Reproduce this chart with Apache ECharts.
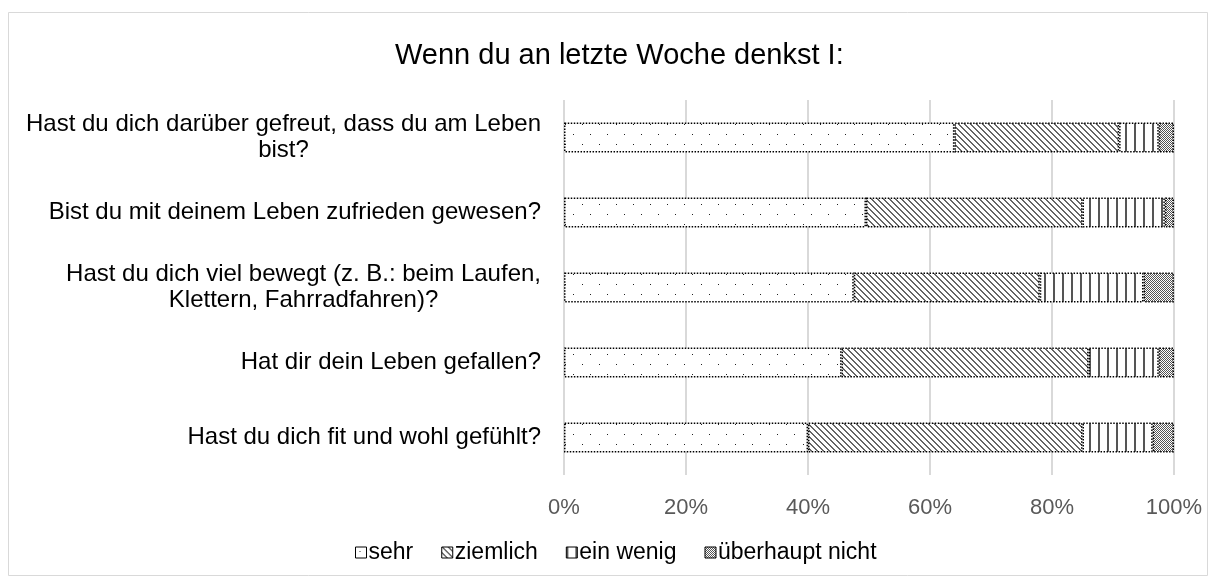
<!DOCTYPE html>
<html>
<head>
<meta charset="utf-8">
<script src="https://cdn.jsdelivr.net/npm/echarts@6/dist/echarts.min.js"></script>
<style>
  html, body { margin: 0; padding: 0; background: #fff; }
  #chart { width: 1216px; height: 583px; }
</style>
</head>
<body>
<div id="chart"></div>
<script>
// Kategorien (von oben nach unten)
const categories = [
  'Hast du dich darüber gefreut, dass du am Leben bist?',
  'Bist du mit deinem Leben zufrieden gewesen?',
  'Hast du dich viel bewegt (z. B.: beim Laufen, Klettern, Fahrradfahren)?',
  'Hat dir dein Leben gefallen?',
  'Hast du dich fit und wohl gefühlt?'
];
const seriesNames = ['sehr', 'ziemlich', 'ein wenig', 'überhaupt nicht'];
const sehr = [64, 49.5, 47.5, 45.5, 40];
const ziemlich = [27, 35.5, 30.5, 40.5, 45];
const einWenig = [6.5, 13.5, 17, 11.5, 11.5];
const ueberhauptNicht = [2.5, 1.5, 5, 2.5, 3.5];
const xTicks = [0, 20, 40, 60, 80, 100];

const FONT = 'Arial, "Liberation Sans", sans-serif';

// kleine Muster-Kacheln wie in Excel
function tile(w, h, draw) {
  const c = document.createElement('canvas');
  c.width = w; c.height = h;
  const ctx = c.getContext('2d');
  ctx.fillStyle = '#fff';
  ctx.fillRect(0, 0, w, h);
  draw(ctx);
  return { image: c, repeat: 'repeat' };
}
const patDots = tile(17, 20, function (ctx) {
  ctx.fillStyle = '#222';
  ctx.fillRect(4, 4, 1, 1);
  ctx.fillRect(12, 14, 1, 1);
});
const patDiag = tile(6, 6, function (ctx) {
  ctx.fillStyle = '#666';
  for (let i = 0; i < 6; i++) {
    ctx.fillRect(i, i, 1, 1);
    ctx.fillRect((i + 1) % 6, i, 1, 1);
  }
});
const patVert = tile(9, 4, function (ctx) {
  ctx.fillStyle = '#555';
  ctx.fillRect(0, 0, 2, 4);
});
const patCheck = tile(2, 2, function (ctx) {
  ctx.fillStyle = '#555';
  ctx.fillRect(0, 0, 1, 1);
  ctx.fillRect(1, 1, 1, 1);
});
const patterns = [patDots, patDiag, patVert, patCheck];
const values = [sehr, ziemlich, einWenig, ueberhauptNicht];

// Zeilenumbruch der Achsenbeschriftung
const measure = document.createElement('canvas').getContext('2d');
measure.font = '24px ' + FONT;
function wrap(text, maxW) {
  const words = text.split(' ');
  const lines = [];
  let cur = '';
  words.forEach(function (w) {
    const t = cur ? cur + ' ' + w : w;
    if (measure.measureText(t).width > maxW && cur) {
      lines.push(cur);
      cur = w;
    } else {
      cur = t;
    }
  });
  if (cur) lines.push(cur);
  return lines;
}

const myChart = echarts.init(document.getElementById('chart'));
myChart.setOption({
  backgroundColor: '#fff',
  animation: false,
  textStyle: { fontFamily: FONT },
  title: {
    text: 'Wenn du an letzte Woche denkst I:',
    left: 390,
    top: 36,
    textStyle: { fontSize: 29, fontWeight: 'normal', color: '#000', fontFamily: FONT }
  },
  graphic: [{
    type: 'rect',
    shape: { x: 8.5, y: 12.5, width: 1199, height: 563 },
    style: { fill: 'none', stroke: '#d9d9d9', lineWidth: 1 },
    silent: true
  }],
  legend: {
    data: seriesNames,
    top: 536,
    left: 350,
    icon: 'rect',
    itemWidth: 11,
    itemHeight: 11,
    itemGap: 28,
    itemStyle: { borderWidth: 1 },
    textStyle: { fontSize: 23, color: '#000', fontFamily: FONT, padding: [0, 0, 0, -3] }
  },
  grid: { left: 564, right: 42, top: 100, height: 375, containLabel: false },
  xAxis: {
    type: 'value',
    min: 0,
    max: 100,
    interval: 20,
    axisLine: { show: false },
    axisTick: { show: false },
    splitLine: { lineStyle: { color: '#d9d9d9', width: 2 } },
    axisLabel: {
      margin: 22,
      fontSize: 22,
      color: '#595959',
      fontFamily: FONT,
      formatter: function (v) { return v + '%'; }
    }
  },
  yAxis: {
    type: 'category',
    data: categories,
    inverse: true,
    axisLine: { show: false },
    axisTick: { show: false },
    axisLabel: {
      margin: 23,
      align: 'right',
      formatter: function (v) {
        return wrap(v, 525).map(function (l) { return '{c|' + l + '}'; }).join('\n');
      },
      rich: {
        c: { align: 'center', fontSize: 24, lineHeight: 26, color: '#000', fontFamily: FONT }
      }
    }
  },
  series: seriesNames.map(function (name, i) {
    return {
      name: name,
      type: 'bar',
      stack: 'total',
      barWidth: 30,
      data: values[i],
      itemStyle: {
        color: patterns[i],
        borderColor: '#000',
        borderWidth: 1.5,
        borderType: [1.5, 1.5]
      }
    };
  })
});
</script>
</body>
</html>
